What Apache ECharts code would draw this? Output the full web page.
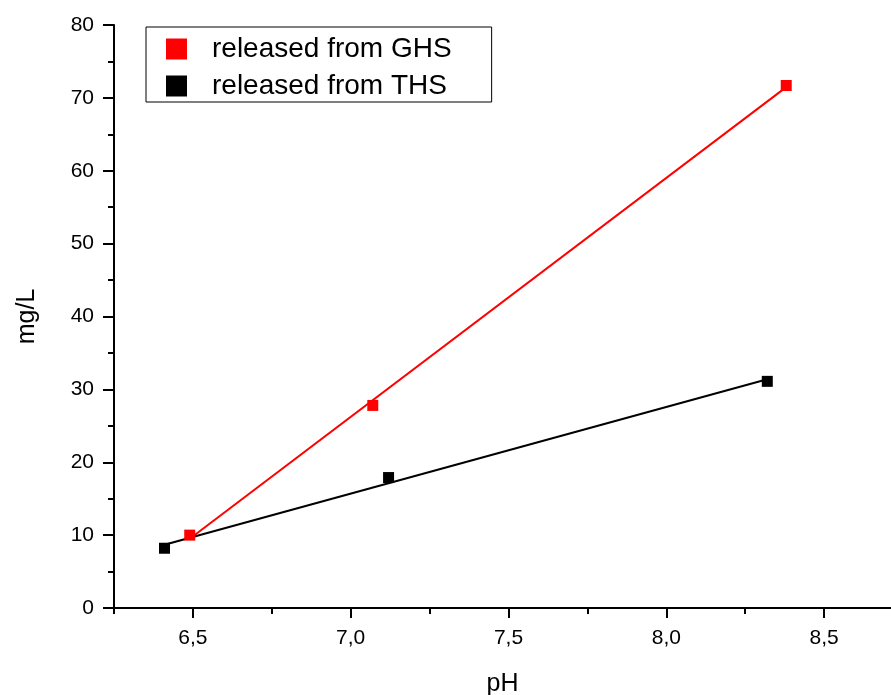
<!DOCTYPE html>
<html>
<head>
<meta charset="utf-8">
<script src="https://cdn.jsdelivr.net/npm/echarts@6/dist/echarts.min.js"></script>
<style>
  html, body { margin: 0; padding: 0; background: #fff; }
  #chart { width: 891px; height: 695px; }
</style>
</head>
<body>
<div id="chart"></div>
<script>
// Measured release (mg/L) against pH for the two materials
const seriesNames = ['released from GHS', 'released from THS'];
const ghsPH = [6.49, 7.07, 8.38];
const ghsMgL = [10.0, 27.8, 71.7];
const thsPH = [6.41, 7.12, 8.32];
const thsMgL = [8.2, 17.9, 31.1];
const xMajorTicks = [6.5, 7.0, 7.5, 8.0, 8.5];
const xMinorTicks = [6.25, 6.75, 7.25, 7.75, 8.25];

const FONT = '"Liberation Sans", Arial, sans-serif';

// Least-squares straight line through a set of points, spanning its x range
function linearFit(xs, ys) {
  const n = xs.length;
  const mx = xs.reduce((a, b) => a + b, 0) / n;
  const my = ys.reduce((a, b) => a + b, 0) / n;
  let sxy = 0, sxx = 0;
  for (let i = 0; i < n; i++) {
    sxy += (xs[i] - mx) * (ys[i] - my);
    sxx += (xs[i] - mx) * (xs[i] - mx);
  }
  const slope = sxy / sxx;
  const icpt = my - slope * mx;
  const x0 = Math.min(...xs), x1 = Math.max(...xs);
  return [[x0, icpt + slope * x0], [x1, icpt + slope * x1]];
}

const pairs = (xs, ys) => xs.map((x, i) => [x, ys[i]]);
const commaFmt = v => v.toFixed(1).replace('.', ',');

const X_MIN = 6.25, X_MAX = 8.712;

const chart = echarts.init(document.getElementById('chart'));
chart.setOption({
  animation: false,
  backgroundColor: '#ffffff',
  grid: { left: 114, top: 25, right: 0, bottom: 87, containLabel: false, outerBoundsMode: 'none' },
  legend: {
    data: seriesNames,
    orient: 'vertical',
    left: 146,
    top: 27,
    borderColor: '#000',
    borderWidth: 1,
    padding: [8, 40, 2, 20],
    itemWidth: 21,
    itemHeight: 21,
    itemGap: 9,
    selectedMode: false,
    textStyle: {
      fontFamily: FONT,
      fontSize: 28,
      color: '#000',
      lineHeight: 21,
      padding: [0, 0, 0, 20]
    }
  },
  xAxis: [
    {
      type: 'value',
      min: X_MIN,
      max: X_MAX,
      interval: 0.25,
      name: 'pH',
      nameLocation: 'middle',
      nameGap: 64,
      nameTextStyle: { fontFamily: FONT, fontSize: 25, color: '#000' },
      axisLine: { onZero: false, lineStyle: { color: '#000', width: 2 } },
      axisTick: { show: true, inside: false, length: 10, customValues: xMajorTicks, lineStyle: { color: '#000', width: 2 } },
      axisLabel: { customValues: xMajorTicks, formatter: commaFmt, fontFamily: FONT, fontSize: 21, color: '#000', margin: 20 },
      splitLine: { show: false }
    },
    {
      type: 'value',
      min: X_MIN,
      max: X_MAX,
      interval: 0.25,
      position: 'bottom',
      axisLine: { show: false },
      axisTick: { show: true, inside: false, length: 6, customValues: xMinorTicks, lineStyle: { color: '#000', width: 2 } },
      axisLabel: { show: false },
      splitLine: { show: false }
    }
  ],
  yAxis: {
    type: 'value',
    min: 0,
    max: 80,
    interval: 10,
    name: 'mg/L',
    nameLocation: 'middle',
    nameGap: 74,
    nameTextStyle: { fontFamily: FONT, fontSize: 25, color: '#000' },
    axisLine: { onZero: false, lineStyle: { color: '#000', width: 2 } },
    axisTick: { show: true, inside: false, length: 11, lineStyle: { color: '#000', width: 2 } },
    minorTick: { show: true, splitNumber: 2, length: 6, lineStyle: { color: '#000', width: 2 } },
    axisLabel: { fontFamily: FONT, fontSize: 21, color: '#000', margin: 20 },
    splitLine: { show: false }
  },
  series: [
    {
      type: 'line',
      data: linearFit(ghsPH, ghsMgL),
      showSymbol: false,
      silent: true,
      lineStyle: { color: '#ff0000', width: 2 },
      z: 2
    },
    {
      type: 'line',
      data: linearFit(thsPH, thsMgL),
      showSymbol: false,
      silent: true,
      lineStyle: { color: '#000000', width: 2 },
      z: 2
    },
    {
      name: seriesNames[0],
      type: 'scatter',
      data: pairs(ghsPH, ghsMgL),
      symbol: 'rect',
      symbolSize: 11,
      itemStyle: { color: '#ff0000', opacity: 1 },
      z: 3
    },
    {
      name: seriesNames[1],
      type: 'scatter',
      data: pairs(thsPH, thsMgL),
      symbol: 'rect',
      symbolSize: 11,
      itemStyle: { color: '#000000', opacity: 1 },
      z: 3
    }
  ]
});
</script>
</body>
</html>
